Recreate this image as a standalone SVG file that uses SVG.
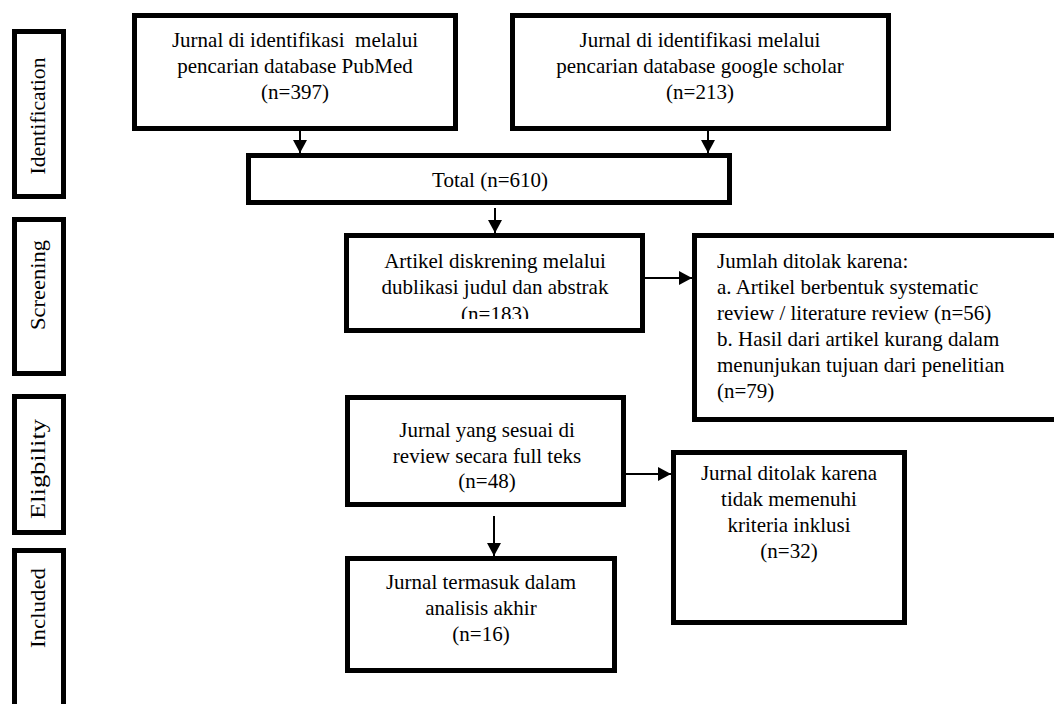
<svg xmlns="http://www.w3.org/2000/svg" width="1054" height="704" viewBox="0 0 1054 704">
<style>
.box{fill:#fff;stroke:#000;stroke-width:5}
.t{font-family:"Liberation Serif","Times New Roman",serif;font-size:21px;fill:#000}
.c{text-anchor:middle}
.lbl{font-family:"Liberation Serif","Times New Roman",serif;font-size:20px;fill:#000;text-anchor:middle}
.conn{stroke:#000;stroke-width:2;fill:none}
</style>
<defs>
<marker id="ah" markerUnits="userSpaceOnUse" viewBox="0 0 13 14" refX="13" refY="7" markerWidth="13" markerHeight="14" orient="auto">
<path d="M0,0 L13,7 L0,14 z" fill="#000"/>
</marker>
<clipPath id="clipArtikel"><rect x="346" y="236" width="296" height="83"/></clipPath>
</defs>
<rect width="1054" height="704" fill="#fff"/>

<g id="stage-identification">
<rect class="box" x="14.5" y="31.5" width="49" height="165"/>
<text class="lbl" transform="translate(45,116) rotate(-90)" textLength="117" lengthAdjust="spacingAndGlyphs">Identification</text>
</g>
<g id="stage-screening">
<rect class="box" x="14.5" y="219.5" width="49" height="154"/>
<text class="lbl" transform="translate(45,285) rotate(-90)" textLength="90" lengthAdjust="spacingAndGlyphs">Screening</text>
</g>
<g id="stage-eligbility">
<rect class="box" x="14.5" y="396.5" width="49" height="136"/>
<text class="lbl" transform="translate(45,469) rotate(-90)" textLength="100" lengthAdjust="spacingAndGlyphs">Eligbility</text>
</g>
<g id="stage-included">
<rect class="box" x="14.5" y="550.5" width="49" height="170"/>
<text class="lbl" transform="translate(45,608) rotate(-90)" textLength="80" lengthAdjust="spacingAndGlyphs">Included</text>
</g>

<g id="pubmed">
<rect class="box" x="134.5" y="15.5" width="321" height="113"/>
<text class="t c" x="295" y="47" style="white-space:pre">Jurnal di identifikasi  melalui</text>
<text class="t c" x="295" y="73">pencarian database PubMed</text>
<text class="t c" x="295" y="99">(n=397)</text>
</g>
<g id="scholar">
<rect class="box" x="512.5" y="15.5" width="376" height="113"/>
<text class="t c" x="700" y="47">Jurnal di identifikasi melalui</text>
<text class="t c" x="700" y="73">pencarian database google scholar</text>
<text class="t c" x="700" y="99">(n=213)</text>
</g>
<g id="total">
<rect class="box" x="248.5" y="155.5" width="481" height="47"/>
<text class="t c" x="490" y="187">Total (n=610)</text>
</g>
<g id="artikel">
<rect class="box" x="346.5" y="235.5" width="296" height="95"/>
<text class="t c" x="495" y="268">Artikel diskrening melalui</text>
<text class="t c" x="495" y="294">dublikasi judul dan abstrak</text>
<text class="t c" x="495" y="321" clip-path="url(#clipArtikel)">(n=183)</text>
</g>
<g id="jumlah">
<rect class="box" x="694.5" y="235.5" width="400" height="184"/>
<text class="t" x="717" y="268">Jumlah ditolak karena:</text>
<text class="t" x="717" y="294">a. Artikel berbentuk systematic</text>
<text class="t" x="717" y="320">review / literature review (n=56)</text>
<text class="t" x="717" y="346">b. Hasil dari artikel kurang dalam</text>
<text class="t" x="717" y="372">menunjukan tujuan dari penelitian</text>
<text class="t" x="717" y="398">(n=79)</text>
</g>
<g id="sesuai">
<rect class="box" x="347.5" y="397.5" width="276" height="107"/>
<text class="t c" x="487" y="437">Jurnal yang sesuai di</text>
<text class="t c" x="487" y="463">review secara full teks</text>
<text class="t c" x="487" y="488">(n=48)</text>
</g>
<g id="ditolak">
<rect class="box" x="673.5" y="452.5" width="231" height="170"/>
<text class="t c" x="789" y="480">Jurnal ditolak karena</text>
<text class="t c" x="789" y="506">tidak memenuhi</text>
<text class="t c" x="789" y="532">kriteria inklusi</text>
<text class="t c" x="789" y="558">(n=32)</text>
</g>
<g id="termasuk">
<rect class="box" x="347.5" y="558.5" width="267" height="112"/>
<text class="t c" x="481" y="589">Jurnal termasuk dalam</text>
<text class="t c" x="481" y="615">analisis akhir</text>
<text class="t c" x="481" y="641">(n=16)</text>
</g>

<g id="connectors">
<line class="conn" x1="300" y1="131" x2="300" y2="153" marker-end="url(#ah)"/>
<line class="conn" x1="708" y1="131" x2="708" y2="153" marker-end="url(#ah)"/>
<line class="conn" x1="495" y1="208" x2="495" y2="233" marker-end="url(#ah)"/>
<line class="conn" x1="645" y1="278" x2="692" y2="278" marker-end="url(#ah)"/>
<line class="conn" x1="626" y1="474" x2="671" y2="474" marker-end="url(#ah)"/>
<line class="conn" x1="494" y1="516" x2="494" y2="556" marker-end="url(#ah)"/>
</g>
</svg>
